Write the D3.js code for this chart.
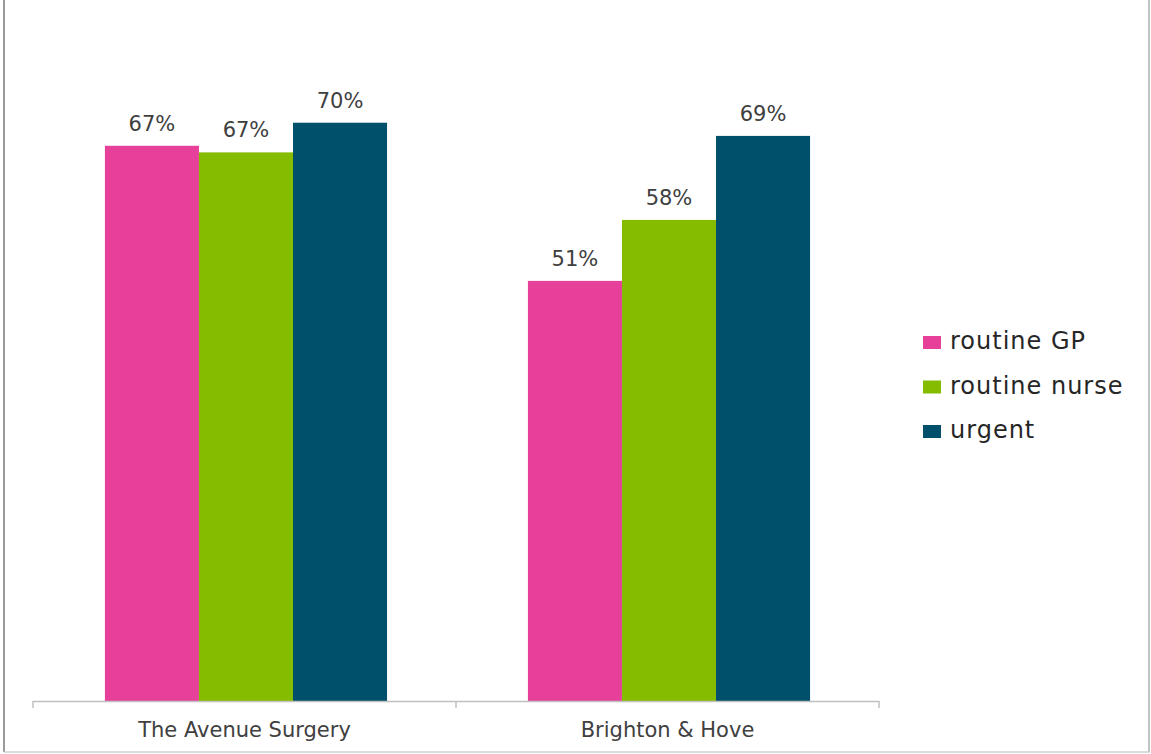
<!DOCTYPE html>
<html>
<head>
<meta charset="utf-8">
<script src="https://cdn.jsdelivr.net/npm/d3@7"></script>
<style>
  html, body { margin: 0; padding: 0; background: #fff; }
  svg { display: block; }
</style>
</head>
<body>
<script>
// ---- data ----
const categories = ["The Avenue Surgery", "Brighton & Hove"];
const seriesNames = ["routine GP", "routine nurse", "urgent"];
const seriesColors = ["#E6409A", "#86BC00", "#00506C"];
const routineGP = [67.4, 51.0];
const routineNurse = [66.6, 58.4];
const urgent = [70.2, 68.6];
const yMax = 80;

const seriesValues = [routineGP, routineNurse, urgent];

const W = 1151, H = 754;
const svg = d3.select("body").append("svg").attr("width", W).attr("height", H);

// frame
svg.append("line").attr("x1", 4).attr("x2", 4).attr("y1", 0).attr("y2", 752)
  .attr("stroke", "#9a9a9a").attr("stroke-width", 2);
svg.append("line").attr("x1", 1149).attr("x2", 1149).attr("y1", 0).attr("y2", 752)
  .attr("stroke", "#c4c4c4").attr("stroke-width", 2);
svg.append("line").attr("x1", 4).attr("x2", 1150).attr("y1", 752).attr("y2", 752)
  .attr("stroke", "#d0d0d0").attr("stroke-width", 1.5);

const plot = { left: 33, right: 879, top: 42, bottom: 701 };

const x0 = d3.scaleBand().domain(categories).range([plot.left, plot.right]).padding(0);
const bw = x0.bandwidth();
const x1 = d3.scaleBand().domain(seriesNames).range([bw * 0.17, bw * 0.837]).padding(0);
const y = d3.scaleLinear().domain([0, yMax]).range([plot.bottom, plot.top]);

const fmt = v => d3.format(".0f")(v) + "%";
const textColor = "#404040";
const font = "'DejaVu Sans', Verdana, sans-serif";

// bars
const groups = svg.append("g").selectAll("g").data(categories).join("g")
  .attr("transform", c => `translate(${x0(c)},0)`);

groups.each(function(c, ci) {
  const g = d3.select(this);
  seriesNames.forEach((s, si) => {
    const v = seriesValues[si][ci];
    g.append("rect")
      .attr("x", x1(s)).attr("width", x1.bandwidth())
      .attr("y", y(v)).attr("height", y(0) - y(v))
      .attr("fill", seriesColors[si]);
    g.append("text")
      .attr("x", x1(s) + x1.bandwidth() / 2)
      .attr("y", y(v) - 15)
      .attr("text-anchor", "middle")
      .attr("font-family", font).attr("font-size", 21)
      .attr("fill", textColor)
      .text(fmt(v));
  });
});

// x axis
const axisG = svg.append("g");
axisG.append("line").attr("x1", plot.left).attr("x2", plot.right)
  .attr("y1", plot.bottom + 0.5).attr("y2", plot.bottom + 0.5)
  .attr("stroke", "#c0c0c0").attr("stroke-width", 1.5);
const boundaries = categories.map(c => x0(c)).concat([x0(categories[categories.length - 1]) + bw]);
axisG.selectAll("line.tick").data(boundaries).join("line")
  .attr("class", "tick")
  .attr("x1", d => d).attr("x2", d => d)
  .attr("y1", plot.bottom).attr("y2", plot.bottom + 7)
  .attr("stroke", "#c0c0c0").attr("stroke-width", 1.5);
axisG.selectAll("text").data(categories).join("text")
  .attr("x", c => x0(c) + bw / 2)
  .attr("y", 737)
  .attr("text-anchor", "middle")
  .attr("font-family", font).attr("font-size", 21)
  .attr("fill", textColor)
  .text(c => c);

// legend
const legend = svg.append("g").attr("transform", "translate(923,0)");
seriesNames.forEach((s, i) => {
  const by = 349 + i * 44.5;
  legend.append("rect").attr("x", 0).attr("y", by - 13).attr("width", 18).attr("height", 13)
    .attr("fill", seriesColors[i]);
  legend.append("text").attr("x", 27).attr("y", by)
    .attr("font-family", font).attr("font-size", 24)
    .attr("letter-spacing", 1)
    .attr("fill", "#262626")
    .text(s);
});
</script>
</body>
</html>
